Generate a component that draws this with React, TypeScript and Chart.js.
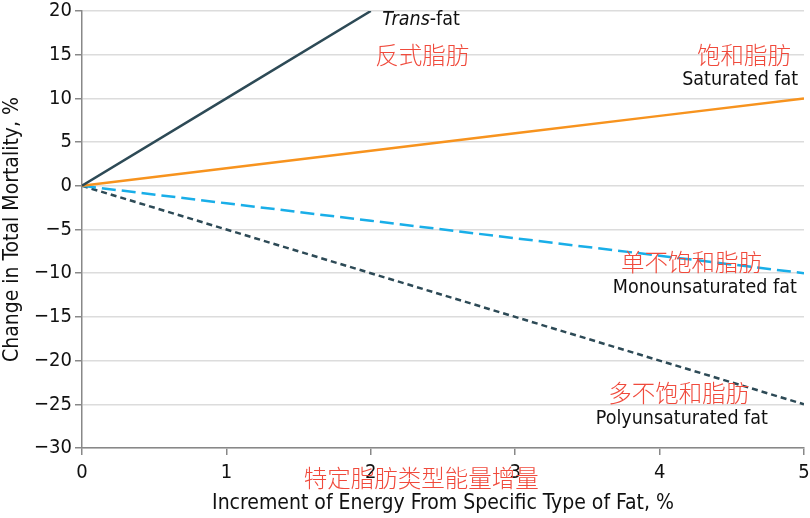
import React, { useEffect, useRef } from "react";
import { Chart, registerables } from "chart.js";

Chart.register(...registerables);

// values
const energyIncrement = [0, 1, 2, 3, 4, 5];
const transFat = [0, 10, 20];
const saturatedFat = [0, 2, 4, 6, 8, 10];
const monounsaturatedFat = [0, -2, -4, -6, -8, -10];
const polyunsaturatedFat = [0, -5, -10, -15, -20, -25];

const yTicks = [20, 15, 10, 5, 0, -5, -10, -15, -20, -25, -30];

// text labels, anchored in data units
const englishLabels = [
    { text: "Saturated fat", x: 4.96, y: 12.1, align: "right" },
    { text: "Monounsaturated fat", x: 4.95, y: -11.7, align: "right" },
    { text: "Polyunsaturated fat", x: 4.75, y: -26.7, align: "right" },
];
const chineseLabels = [
    { text: "反式脂肪", x: 2.03, y: 15.0, align: "left" },
    { text: "饱和脂肪", x: 4.91, y: 15.0, align: "right" },
    { text: "单不饱和脂肪", x: 4.71, y: -8.7, align: "right" },
    { text: "多不饱和脂肪", x: 4.62, y: -23.7, align: "right" },
    { text: "特定脂肪类型能量增量", x: 2.35, y: -33.4, align: "center" },
];

const FONT = "'DejaVu Sans Condensed', 'Liberation Sans Narrow', sans-serif";
const CJK = "'Noto Sans CJK SC', sans-serif";

const toPoints = (values: number[]) =>
    values.map((v, i) => ({ x: energyIncrement[i], y: v }));

const labelPlugin = {
    id: "fatLabels",
    afterDraw(chart: any) {
        const { ctx, scales } = chart;
        const xs = scales.x;
        const ys = scales.y;
        ctx.save();
        ctx.textBaseline = "middle";

        // Trans-fat with italic "Trans"
        const tx = xs.getPixelForValue(2.08);
        const ty = ys.getPixelForValue(19.0);
        ctx.fillStyle = "#111";
        ctx.textAlign = "left";
        ctx.font = `italic 19.5px ${FONT}`;
        ctx.fillText("Trans", tx, ty);
        const w = ctx.measureText("Trans").width;
        ctx.font = `19.5px ${FONT}`;
        ctx.fillText("-fat", tx + w, ty);

        ctx.font = `19.5px ${FONT}`;
        englishLabels.forEach(l => {
            ctx.textAlign = l.align;
            ctx.fillText(l.text, xs.getPixelForValue(l.x), ys.getPixelForValue(l.y));
        });

        ctx.fillStyle = "#f04a3c";
        ctx.font = `300 23.5px ${CJK}`;
        chineseLabels.forEach(l => {
            ctx.textAlign = l.align;
            ctx.fillText(l.text, xs.getPixelForValue(l.x), ys.getPixelForValue(l.y));
        });
        ctx.restore();
    },
};

const FatChart: React.FC = () => {
    const canvasRef = useRef<HTMLCanvasElement | null>(null);
    const chartRef = useRef<Chart | null>(null);

    useEffect(() => {
        document.body.style.margin = "0";
        if (!canvasRef.current) return;
        const ctx = canvasRef.current.getContext("2d");
        if (!ctx) return;
        if (chartRef.current) chartRef.current.destroy();

        chartRef.current = new Chart(ctx, {
            type: "line",
            data: {
                datasets: [
                    {
                        label: "Trans-fat",
                        data: toPoints(transFat),
                        borderColor: "#2d4a56",
                        borderWidth: 2.5,
                        pointRadius: 0,
                    },
                    {
                        label: "Saturated fat",
                        data: toPoints(saturatedFat),
                        borderColor: "#f7931e",
                        borderWidth: 2.5,
                        pointRadius: 0,
                    },
                    {
                        label: "Monounsaturated fat",
                        data: toPoints(monounsaturatedFat),
                        borderColor: "#19aee8",
                        borderWidth: 2.5,
                        borderDash: [14, 6],
                        pointRadius: 0,
                    },
                    {
                        label: "Polyunsaturated fat",
                        data: toPoints(polyunsaturatedFat),
                        borderColor: "#2d4a56",
                        borderWidth: 2.5,
                        borderDash: [6, 4],
                        pointRadius: 0,
                    },
                ],
            },
            options: {
                animation: false,
                responsive: true,
                maintainAspectRatio: false,
                layout: { padding: { top: 11, right: 6, left: 0, bottom: 0 } },
                plugins: {
                    legend: { display: false },
                    tooltip: { enabled: false },
                },
                scales: {
                    x: {
                        type: "linear",
                        min: 0,
                        max: 5,
                        afterFit: (scale: any) => {
                            scale.height = 70;
                            scale.paddingLeft = 0;
                            scale.paddingRight = 0;
                        },
                        afterBuildTicks: (scale: any) => {
                            scale.ticks = energyIncrement.map(v => ({ value: v }));
                        },
                        grid: {
                            drawOnChartArea: false,
                            tickColor: "#888",
                            tickLength: 7,
                            lineWidth: 1.5,
                        },
                        border: { color: "#888", width: 1.5 },
                        ticks: {
                            color: "#111",
                            padding: 6,
                            font: { family: FONT, size: 20 },
                        },
                        title: {
                            display: true,
                            text: "Increment of Energy From Specific Type of Fat, %",
                            color: "#111",
                            font: { family: FONT, size: 21 },
                            padding: { top: 0, bottom: 2 },
                        },
                    },
                    y: {
                        type: "linear",
                        min: -30,
                        max: 20,
                        afterFit: (scale: any) => {
                            scale.width = 82;
                            scale.paddingTop = 0;
                            scale.paddingBottom = 0;
                        },
                        afterBuildTicks: (scale: any) => {
                            scale.ticks = yTicks.map(v => ({ value: v }));
                        },
                        grid: {
                            color: "#dcdcdc",
                            lineWidth: 1.5,
                            tickColor: "#888",
                            tickLength: 7,
                        },
                        border: { color: "#888", width: 1.5 },
                        ticks: {
                            color: "#111",
                            padding: 3,
                            font: { family: FONT, size: 20 },
                            callback: (v: any) => String(v).replace("-", "\u2212"),
                        },
                        title: {
                            display: true,
                            text: "Change in Total Mortality, %",
                            color: "#111",
                            font: { family: FONT, size: 21 },
                            padding: { top: 0, bottom: 0 },
                        },
                    },
                },
            },
            plugins: [labelPlugin],
        });

        return () => {
            if (chartRef.current) {
                chartRef.current.destroy();
                chartRef.current = null;
            }
        };
    }, []);

    return (
        <div style={{ width: "810px", height: "518px", position: "relative" }}>
            <canvas ref={canvasRef}></canvas>
        </div>
    );
};

export default function App() {
    return <FatChart />;
}
